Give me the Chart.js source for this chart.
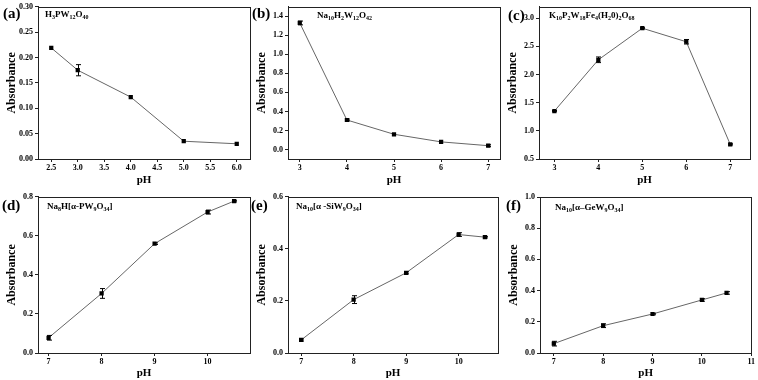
<!DOCTYPE html>
<html>
<head>
<meta charset="utf-8">
<script src="https://cdn.jsdelivr.net/npm/chart.js@4/dist/chart.umd.min.js"></script>
<style>
  body { margin: 0; background: #fff; }
  #wrap { position: relative; width: 758px; height: 380px; overflow: hidden; font-family: "Liberation Serif", "Times New Roman", serif; }
  .cell { position: absolute; }
  .tag { position: absolute; font-weight: bold; font-size: 15px; line-height: 1; color: #000; }
  .formula { position: absolute; font-weight: bold; font-size: 9px; line-height: 1; color: #000; white-space: nowrap; }
  .formula sub { font-size: 6px; vertical-align: -2px; line-height: 0; }
</style>
</head>
<body>
<div id="wrap">
  <div class="cell" style="left:0;top:0;width:253px;height:187px"><canvas id="chA"></canvas></div>
  <div class="cell" style="left:250px;top:0;width:253px;height:187px"><canvas id="chB"></canvas></div>
  <div class="cell" style="left:501px;top:0;width:253px;height:187px"><canvas id="chC"></canvas></div>
  <div class="cell" style="left:0;top:190px;width:253px;height:190px"><canvas id="chD"></canvas></div>
  <div class="cell" style="left:250px;top:190px;width:251px;height:190px"><canvas id="chE"></canvas></div>
  <div class="cell" style="left:502px;top:190px;width:254px;height:190px"><canvas id="chF"></canvas></div>

  <div class="tag" style="left:3px;top:6px">(a)</div>
  <div class="tag" style="left:252px;top:6px">(b)</div>
  <div class="tag" style="left:508px;top:8px">(c)</div>
  <div class="tag" style="left:2px;top:198px">(d)</div>
  <div class="tag" style="left:251px;top:198px">(e)</div>
  <div class="tag" style="left:506px;top:198px">(f)</div>

  <div class="formula" style="left:45px;top:10px">H<sub>3</sub>PW<sub>12</sub>O<sub>40</sub></div>
  <div class="formula" style="left:317px;top:11px">Na<sub>10</sub>H<sub>2</sub>W<sub>12</sub>O<sub>42</sub></div>
  <div class="formula" style="left:549px;top:11px">K<sub>10</sub>P<sub>2</sub>W<sub>18</sub>Fe<sub>4</sub>(H<sub>2</sub>0)<sub>2</sub>O<sub>68</sub></div>
  <div class="formula" style="left:47px;top:202px">Na<sub>8</sub>H[α-PW<sub>9</sub>O<sub>34</sub>]</div>
  <div class="formula" style="left:296px;top:202px">Na<sub>10</sub>[α -SiW<sub>9</sub>O<sub>34</sub>]</div>
  <div class="formula" style="left:555px;top:203px">Na<sub>10</sub>[α–GeW<sub>9</sub>O<sub>34</sub>]</div>
</div>

<script>
// (a) H3PW12O40
const phA   = [2.5, 3.0, 4.0, 5.0, 6.0];
const absA  = [0.219, 0.175, 0.122, 0.035, 0.030];
const errA  = [0, 0.011, 0, 0, 0];
const xTicksA = [2.5, 3.0, 3.5, 4.0, 4.5, 5.0, 5.5, 6.0];
const yTicksA = [0, 0.05, 0.10, 0.15, 0.20, 0.25, 0.30];

// (b) Na10H2W12O42
const phB   = [3, 4, 5, 6, 7];
const absB  = [1.33, 0.31, 0.16, 0.08, 0.04];
const errB  = [0.02, 0.01, 0, 0, 0.01];
const xTicksB = [3, 4, 5, 6, 7];
const yTicksB = [0, 0.2, 0.4, 0.6, 0.8, 1.0, 1.2, 1.4];

// (c) K10P2W18Fe4(H20)2O68
const phC   = [3, 4, 5, 6, 7];
const absC  = [1.35, 2.26, 2.82, 2.58, 0.76];
const errC  = [0.01, 0.05, 0.01, 0.04, 0.01];
const xTicksC = [3, 4, 5, 6, 7];
const yTicksC = [0.5, 1.0, 1.5, 2.0, 2.5, 3.0];

// (d) Na8H[a-PW9O34]
const phD   = [7, 8, 9, 10, 10.5];
const absD  = [0.078, 0.305, 0.560, 0.722, 0.778];
const errD  = [0.012, 0.025, 0.004, 0.01, 0.004];
const xTicksD = [7, 8, 9, 10];
const yTicksD = [0, 0.2, 0.4, 0.6, 0.8];

// (e) Na10[a-SiW9O34]
const phE   = [7, 8, 9, 10, 10.5];
const absE  = [0.050, 0.205, 0.308, 0.455, 0.445];
const errE  = [0.004, 0.015, 0.004, 0.007, 0.003];
const xTicksE = [7, 8, 9, 10];
const yTicksE = [0, 0.2, 0.4, 0.6];

// (f) Na10[a-GeW9O34]
const phF   = [7, 8, 9, 10, 10.5];
const absF  = [0.060, 0.175, 0.250, 0.340, 0.385];
const errF  = [0.015, 0.012, 0.005, 0.008, 0.008];
const xTicksF = [7, 8, 9, 10, 11];
const yTicksF = [0, 0.2, 0.4, 0.6, 0.8, 1.0];

const serif = "'Liberation Serif', 'Times New Roman', serif";

// frame round the plot area (closed box like Origin)
const frame = {
  id: 'frame',
  afterDraw(chart) {
    const a = chart.chartArea, c = chart.ctx;
    c.save();
    c.strokeStyle = '#222';
    c.lineWidth = 1;
    c.strokeRect(Math.round(a.left) + 0.5, Math.round(a.top) + 0.5, Math.round(a.right - a.left), Math.round(a.bottom - a.top));
    c.restore();
  }
};

// vertical error bars with caps
const errorBars = {
  id: 'errorBars',
  afterDatasetsDraw(chart) {
    const c = chart.ctx, xs = chart.scales.x, ys = chart.scales.y;
    chart.data.datasets.forEach(ds => {
      if (!ds.errors) return;
      c.save();
      c.strokeStyle = '#000';
      c.lineWidth = 1;
      ds.data.forEach((p, i) => {
        const e = ds.errors[i];
        if (!e) return;
        const px = Math.round(xs.getPixelForValue(p.x)) + 0.5;
        const y1 = ys.getPixelForValue(p.y + e);
        const y2 = ys.getPixelForValue(p.y - e);
        c.beginPath();
        c.moveTo(px, y1); c.lineTo(px, y2);
        c.moveTo(px - 2.5, y1); c.lineTo(px + 2.5, y1);
        c.moveTo(px - 2.5, y2); c.lineTo(px + 2.5, y2);
        c.stroke();
      });
      c.restore();
    });
  }
};

function makePanel(id, xs, ys, errs, xTicks, yTicks, lim, box) {
  new Chart(document.getElementById(id), {
    type: 'line',
    data: {
      datasets: [{
        data: xs.map((x, i) => ({ x: x, y: ys[i] })),
        errors: errs,
        borderColor: '#666',
        borderWidth: 1,
        tension: 0,
        pointStyle: 'rect',
        pointRadius: 3,
        pointBorderWidth: 0,
        pointBackgroundColor: '#000',
        pointBorderColor: '#000'
      }]
    },
    options: {
      responsive: true,
      maintainAspectRatio: false,
      animation: false,
      events: [],
      layout: { autoPadding: false, padding: { top: box.top, right: box.right, left: 0, bottom: 0 } },
      plugins: { legend: { display: false }, tooltip: { enabled: false } },
      scales: {
        x: {
          type: 'linear', min: lim.x0, max: lim.x1,
          afterBuildTicks: s => { s.ticks = xTicks.map(v => ({ value: v })); },
          afterFit: s => { s.height = box.xh; },
          grid: { drawOnChartArea: false, tickLength: 3, color: '#222' },
          border: { color: '#222' },
          ticks: { color: '#000', padding: 1, autoSkip: false, maxRotation: 0,
                   font: { family: serif, size: 8, weight: 'bold' },
                   callback: v => v.toFixed(lim.xd) },
          title: { display: true, text: 'pH', color: '#000', padding: 0,
                   font: { family: serif, size: 11, weight: 'bold' } }
        },
        y: {
          type: 'linear', min: lim.y0, max: lim.y1,
          afterBuildTicks: s => { s.ticks = yTicks.map(v => ({ value: v })); },
          afterFit: s => { s.width = box.yw; },
          grid: { drawOnChartArea: false, tickLength: 3, color: '#222' },
          border: { color: '#222' },
          ticks: { color: '#000', padding: 2, autoSkip: false,
                   font: { family: serif, size: 8, weight: 'bold' },
                   callback: v => v.toFixed(lim.yd) },
          title: { display: true, text: 'Absorbance', color: '#000', padding: { top: 5, bottom: 0 },
                   font: { family: serif, size: 12, weight: 'bold' } }
        }
      }
    },
    plugins: [frame, errorBars]
  });
}

makePanel('chA', phA, absA, errA, xTicksA, yTicksA,
  { x0: 2.25, x1: 6.25, y0: 0, y1: 0.30, xd: 1, yd: 2 }, { top: 3, right: 3, xh: 28, yw: 38 });
makePanel('chB', phB, absB, errB, xTicksB, yTicksB,
  { x0: 2.75, x1: 7.25, y0: -0.1, y1: 1.5, xd: 0, yd: 1 }, { top: 3, right: 3, xh: 28, yw: 38 });
makePanel('chC', phC, absC, errC, xTicksC, yTicksC,
  { x0: 2.65, x1: 7.45, y0: 0.5, y1: 3.2, xd: 0, yd: 1 }, { top: 3, right: 4, xh: 28, yw: 38 });
makePanel('chD', phD, absD, errD, xTicksD, yTicksD,
  { x0: 6.8, x1: 10.8, y0: 0, y1: 0.8, xd: 0, yd: 1 }, { top: 5, right: 3, xh: 27, yw: 38 });
makePanel('chE', phE, absE, errE, xTicksE, yTicksE,
  { x0: 6.75, x1: 10.75, y0: 0, y1: 0.6, xd: 0, yd: 1 }, { top: 5, right: 3, xh: 27, yw: 38 });
makePanel('chF', phF, absF, errF, xTicksF, yTicksF,
  { x0: 6.72, x1: 11, y0: 0, y1: 1.0, xd: 0, yd: 1 }, { top: 7, right: 3, xh: 27, yw: 38 });
</script>
</body>
</html>
